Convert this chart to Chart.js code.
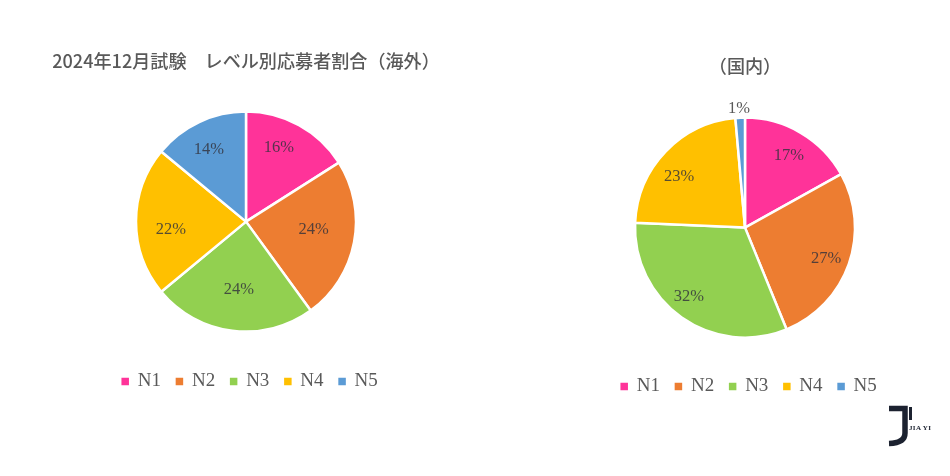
<!DOCTYPE html>
<html><head><meta charset="utf-8">
<style>
html,body{margin:0;padding:0;background:#fff;width:950px;height:476px;overflow:hidden}
.box{position:absolute}
svg{position:absolute;left:880px;top:400px}
</style>
<script src="https://cdn.jsdelivr.net/npm/chart.js@4"></script>
</head><body>
<div class="box" style="left:0;top:42px;width:492px;height:359px"><canvas id="a"></canvas></div>
<div class="box" style="left:540px;top:47px;width:410px;height:359px"><canvas id="b"></canvas></div>
<svg width="60" height="50" viewBox="0 0 60 50">
<path d="M9 8.500H25V33Q25 43 9 43.500" fill="none" stroke="#1c2230" stroke-width="5.500"/>
<rect x="29" y="7" width="3" height="13" fill="#1c2230"/>
<text x="29" y="29.500" font-family="Liberation Serif" font-weight="bold" font-size="7" fill="#1c2230" textLength="22">JIA YI</text>
</svg>
<script>
const categories = ['N1','N2','N3','N4','N5'];
const overseasValues = [16,24,24,22,14];
const domesticValues = [17,27,32,23,1.4];
const overseasTitle = '2024年12月試験　レベル別応募者割合（海外）';
const domesticTitle = '（国内）';
const colors = ['#FF3399','#ED7D31','#92D050','#FFC000','#5B9BD5'];
// label placement, as [fraction of radius, angle shift in degrees]
const overseasPlace = [[.737,-4.8],[.62,-4.1],[.62,-1.3],[.686,-6.1],[.736,-2]];
const domesticPlace = [[.767,.8],[.79,1.8],[.807,4],[.76,-5.8],[1.08,-.4]];
const serif = '"Liberation Serif", serif';

const pctLabels = {
  id:'pctLabels',
  afterLayout(chart,args,opts){
    chart.legend.left += opts.legendNudge;
    chart.legend.right += opts.legendNudge;
  },
  afterDatasetsDraw(chart,args,opts){
    const {ctx} = chart, meta = chart.getDatasetMeta(0);
    ctx.save();
    ctx.font = '16.5px '+serif;
    ctx.textAlign='center'; ctx.textBaseline='middle';
    meta.data.forEach((arc,i)=>{
      const p = arc.getProps(['x','y','startAngle','endAngle','outerRadius'],true);
      const [f,shift] = opts.place[i];
      const ang = (p.startAngle+p.endAngle)/2 + shift*Math.PI/180;
      const r = p.outerRadius*f;
      ctx.fillStyle = f>1 ? '#595959' : 'rgba(50,50,60,.82)';
      ctx.fillText(Math.floor(chart.data.datasets[0].data[i])+'%', p.x+Math.cos(ang)*r, p.y+Math.sin(ang)*r);
    });
    ctx.restore();
  }
};
function make(id,values,title,place,titleGap){
  new Chart(document.getElementById(id),{
    type:'pie',
    data:{labels:categories,datasets:[{data:values,backgroundColor:colors,borderColor:'#fff',borderWidth:2.500,radius:110}]},
    plugins:[pctLabels],
    options:{
      responsive:true,maintainAspectRatio:false,animation:false,
      layout:{padding:0},
      plugins:{
        title:{display:true,text:title,color:'#595959',font:{family:'"Noto Sans CJK JP"',size:18.100,weight:500},padding:{top:8,bottom:titleGap}},
        legend:{position:'bottom',labels:{color:'#595959',font:{family:serif,size:19},boxWidth:6,boxHeight:10,padding:15.500,usePointStyle:true,pointStyle:'rect'}},
        tooltip:{enabled:false},
        pctLabels:{place,legendNudge:4}
      }
    }
  });
}
make('a',overseasValues,overseasTitle,overseasPlace,15);
make('b',domesticValues,domesticTitle,domesticPlace,17);
</script>
</body></html>
